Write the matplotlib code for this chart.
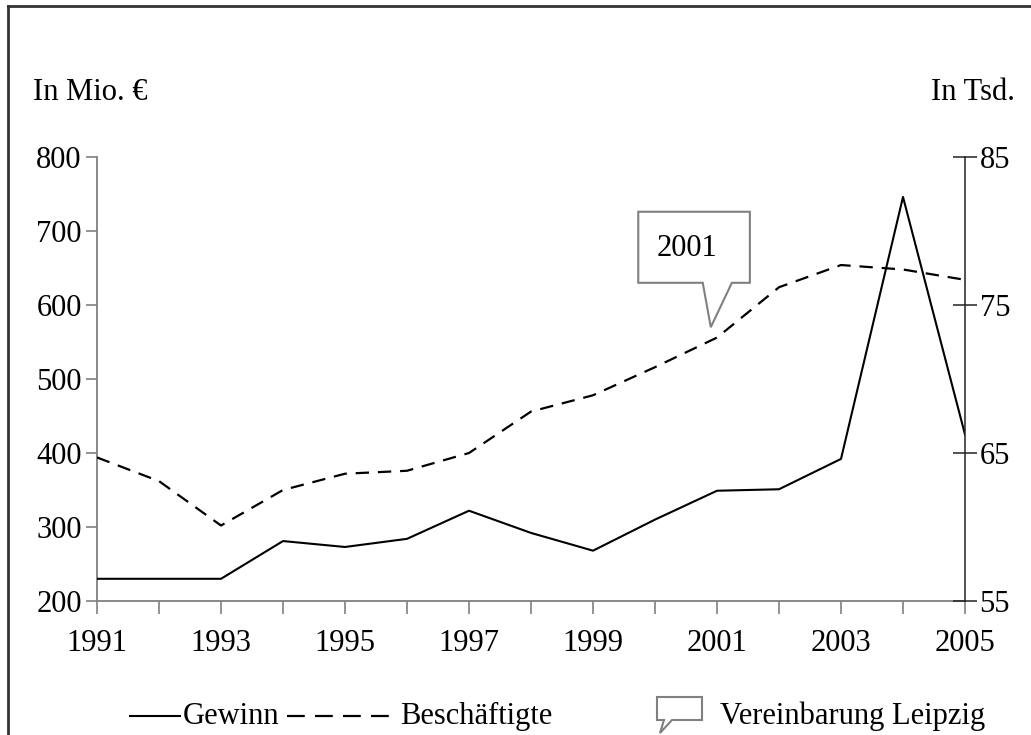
import matplotlib
matplotlib.use("Agg")
import matplotlib.pyplot as plt
from matplotlib.lines import Line2D
from matplotlib.patches import Polygon

plt.rcParams['font.family'] = ['Liberation Serif', 'DejaVu Serif']

# Daten
jahre = list(range(1991, 2006))
gewinn = [230, 230, 230, 281, 273, 284, 322, 292, 268, 310, 349, 351, 392, 746, 425]
beschaeftigte = [64.7, 63.1, 60.1, 62.5, 63.6, 63.8, 65.0, 67.8, 68.9, 70.8,
                 72.8, 76.2, 77.7, 77.4, 76.7]
links_ticks = [200, 300, 400, 500, 600, 700, 800]
rechts_ticks = [55, 65, 75, 85]
callout_jahr = 2001

W, H = 1031, 735
FS = 22
GRAU = '#808080'
STRICH = (0, (6, 4))


def px(x, y):
    # Pixel (von oben links) -> Figurkoordinaten
    return x / W, 1 - y / H


fig = plt.figure(figsize=(W / 100, H / 100), dpi=100)
ax = fig.add_axes([97 / W, 1 - 601 / H, (965 - 97) / W, (601 - 157) / H])
ax2 = ax.twinx()

ax.plot(jahre, gewinn, color='black', lw=1.5, zorder=3)
ax2.plot(jahre, beschaeftigte, color='black', lw=1.6, linestyle=STRICH)

ax.set_xlim(1991, 2005)
ax.set_ylim(200, 800)
ax2.set_ylim(55, 85)
ax.set_yticks(links_ticks)
ax2.set_yticks(rechts_ticks)
ax.set_xticks(jahre)
ax.set_xticklabels([str(j) if j % 2 == 1 else '' for j in jahre])

for s in ['top', 'right']:
    ax.spines[s].set_visible(False)
for s in ['top', 'left', 'bottom']:
    ax2.spines[s].set_visible(False)
ax.spines['left'].set_color(GRAU)
ax.spines['bottom'].set_color(GRAU)
ax.spines['left'].set_linewidth(1.3)
ax.spines['bottom'].set_linewidth(1.3)
ax2.spines['right'].set_color('#222222')
ax2.spines['right'].set_linewidth(1.1)

ax.tick_params(axis='x', direction='out', length=9, width=1.2, color=GRAU,
               labelsize=FS, pad=11)
ax.tick_params(axis='y', direction='out', length=8, width=1.2, color=GRAU,
               labelsize=FS, pad=3)
ax2.tick_params(axis='y', direction='inout', length=17, width=1.1, color='#222222',
                labelsize=FS, pad=2)

# Sprechblase "2001"
i = jahre.index(callout_jahr)
tip_x = callout_jahr - 0.1
tip_y = 200 + (beschaeftigte[i] - 55) * 20 + 14
box = [(tip_x - 1.17, tip_y + 60), (tip_x - 1.17, tip_y + 156),
       (tip_x + 0.63, tip_y + 156), (tip_x + 0.63, tip_y + 60),
       (tip_x + 0.34, tip_y + 60), (tip_x, tip_y), (tip_x - 0.13, tip_y + 60)]
ax.add_patch(Polygon(box, closed=True, facecolor='white', edgecolor=GRAU,
                     lw=1.5, zorder=5))
ax.text(tip_x - 0.38, tip_y + 107, '2001', ha='center', va='center',
        fontsize=FS, zorder=6)

# Achsentitel
fig.text(*px(33, 93), 'In Mio. €', ha='left', va='center', fontsize=FS)
fig.text(*px(1015, 93), 'In Tsd.', ha='right', va='center', fontsize=FS)

# Rahmen (links und oben)
fig.add_artist(Line2D([8 / W, 8 / W], [0, 1 - 6 / H], transform=fig.transFigure,
                      color='#333333', lw=2))
fig.add_artist(Line2D([8 / W, 1], [1 - 6 / H, 1 - 6 / H], transform=fig.transFigure,
                      color='#333333', lw=2))

# Legende
ly = 716
x0, y0 = px(130, ly)
x1, _ = px(180, ly)
fig.add_artist(Line2D([x0, x1], [y0, y0], transform=fig.transFigure,
                      color='black', lw=1.5))
fig.text(*px(183, ly), 'Gewinn', ha='left', va='center', fontsize=FS)
x0, _ = px(287, ly)
x1, _ = px(392, ly)
fig.add_artist(Line2D([x0, x1], [y0, y0], transform=fig.transFigure,
                      color='black', lw=1.6, linestyle=(0, (8, 4.6))))
fig.text(*px(400, ly), 'Beschäftigte', ha='left', va='center', fontsize=FS)
icon = [px(657, 720), px(657, 697), px(702, 697), px(702, 720),
        px(672, 720), px(660, 733), px(664, 720)]
fig.add_artist(Polygon(icon, closed=True, transform=fig.transFigure,
                       facecolor='white', edgecolor=GRAU, lw=1.5))
fig.text(*px(720, ly), 'Vereinbarung Leipzig', ha='left', va='center', fontsize=FS)

fig.savefig('out.png', dpi=100)
